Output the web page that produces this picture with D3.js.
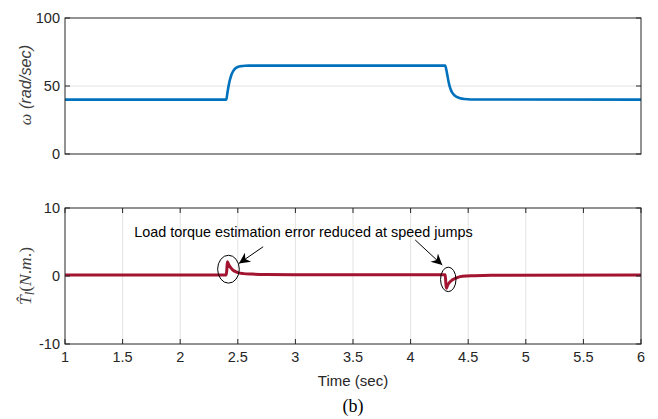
<!DOCTYPE html>
<html><head><meta charset="utf-8">
<script src="https://cdn.jsdelivr.net/npm/d3@7"></script>
<style>body{margin:0;background:#fff}svg{display:block}</style>
</head><body><svg id="c" width="658" height="419"></svg>
<script>
const speedT = [1, 2.40, 2.41, 2.42, 2.43, 2.44, 2.45, 2.46, 2.48, 2.50, 2.53, 2.56, 2.60, 4.30, 4.31, 4.32, 4.33, 4.34, 4.35, 4.36, 4.38, 4.40, 4.43, 4.47, 4.52, 6];
const speedV = [40, 40, 45, 50, 54, 57, 59.3, 61, 63, 64, 64.6, 64.9, 65, 65, 62, 57.5, 53, 49.5, 47, 45.3, 43.2, 42, 41, 40.4, 40.1, 40];
const torqueT = [1, 2.40, 2.405, 2.41, 2.42, 2.44, 2.46, 2.48, 2.50, 2.55, 2.62, 2.75, 3.0, 4.30, 4.305, 4.31, 4.32, 4.34, 4.36, 4.38, 4.41, 4.45, 4.55, 4.7, 6];
const torqueV = [0.15, 0.15, 1.0, 2.1, 1.7, 1.2, 0.85, 0.65, 0.5, 0.35, 0.28, 0.22, 0.2, 0.2, -0.8, -1.8, -1.4, -0.9, -0.6, -0.4, -0.2, -0.05, 0.05, 0.12, 0.15];
const xTicks = [1, 1.5, 2, 2.5, 3, 3.5, 4, 4.5, 5, 5.5, 6];
const speedTicks = [0, 50, 100];
const torqueTicks = [-10, 0, 10];
const annText = "Load torque estimation error reduced at speed jumps";
const annTextPos = [3.07, 5.7];
const ellipses = [{t: 2.419, v: 1.0, rt: 0.094, rv: 2.05}, {t: 4.327, v: -0.5, rt: 0.067, rv: 1.8}];
const arrows = [{from: [2.72, 4.3], to: [2.51, 1.85]}, {from: [4.04, 5.3], to: [4.275, 1.6]}];

const svg = d3.select("#c");
const L = 65, R = 641;
const x = d3.scaleLinear().domain([1, 6]).range([L, R]);
const y1 = d3.scaleLinear().domain([0, 100]).range([154, 18]);
const y2 = d3.scaleLinear().domain([-10, 10]).range([344, 208]);
const axC = "#262626", gridC = "#e3e3e3";
const font = "'Liberation Sans', Arial, Helvetica, sans-serif";
const serif = "'Liberation Serif', 'Times New Roman', serif";

svg.append("defs").append("marker").attr("id", "ah").attr("viewBox", "0 0 10 10")
  .attr("refX", 10).attr("refY", 5).attr("markerWidth", 15).attr("markerHeight", 11)
  .attr("markerUnits", "userSpaceOnUse").attr("orient", "auto")
  .append("path").attr("d", "M0,0 L10,5 L0,10 L3,5 Z").attr("fill", "#000");

function panel(y, yTicks, xGrid, yGrid) {
  const g = svg.append("g");
  const [b, t] = y.range();
  if (yGrid) g.selectAll("line.hg").data(yTicks.filter(v => v !== y.domain()[0] && v !== y.domain()[1])).join("line")
    .attr("class", "hg").attr("x1", L).attr("x2", R).attr("y1", d => y(d)).attr("y2", d => y(d)).attr("stroke", gridC).attr("stroke-width", 1);
  if (xGrid) g.selectAll("line.vg").data(xTicks.slice(1, -1)).join("line")
    .attr("class", "vg").attr("x1", d => x(d)).attr("x2", d => x(d)).attr("y1", t).attr("y2", b).attr("stroke", gridC).attr("stroke-width", 1);
}
function frame(y, yTicks, showX, xTickMarks) {
  const g = svg.append("g");
  const [b, t] = y.range();
  g.append("rect").attr("x", L).attr("y", t).attr("width", R - L).attr("height", b - t)
    .attr("fill", "none").attr("stroke", axC).attr("stroke-width", 1);
  yTicks.forEach(v => {
    g.append("line").attr("x1", L).attr("x2", L + 5).attr("y1", y(v)).attr("y2", y(v)).attr("stroke", axC);
    g.append("line").attr("x1", R).attr("x2", R - 5).attr("y1", y(v)).attr("y2", y(v)).attr("stroke", axC);
    g.append("text").attr("x", L - 5).attr("y", y(v)).attr("dy", "0.36em").attr("text-anchor", "end")
      .attr("font-family", font).attr("font-size", 14.5).attr("fill", axC).text(v);
  });
  if (xTickMarks) xTicks.forEach(v => {
    g.append("line").attr("x1", x(v)).attr("x2", x(v)).attr("y1", b).attr("y2", b - 5).attr("stroke", axC);
    g.append("line").attr("x1", x(v)).attr("x2", x(v)).attr("y1", t).attr("y2", t + 5).attr("stroke", axC);
  });
  if (showX) xTicks.forEach(v => {
    g.append("text").attr("x", x(v)).attr("y", b + 18).attr("text-anchor", "middle")
      .attr("font-family", font).attr("font-size", 14.5).attr("fill", axC).text(v);
  });
}

// top panel
panel(y1, speedTicks, false, true);
const line1 = d3.line().x((d, i) => x(speedT[i])).y(d => y1(d)).curve(d3.curveMonotoneX);
svg.append("path").attr("d", line1(speedV)).attr("fill", "none").attr("stroke", "#0072BD").attr("stroke-width", 2.6);
frame(y1, speedTicks, false, false);

// bottom panel
panel(y2, torqueTicks, true, false);
const line2 = d3.line().x((d, i) => x(torqueT[i])).y(d => y2(d)).curve(d3.curveMonotoneX);
svg.append("path").attr("d", line2(torqueV)).attr("fill", "none").attr("stroke", "#A2142F").attr("stroke-width", 3);
frame(y2, torqueTicks, true, true);

// annotations
ellipses.forEach(e => {
  svg.append("ellipse").attr("cx", x(e.t)).attr("cy", y2(e.v))
    .attr("rx", x(e.t + e.rt) - x(e.t)).attr("ry", y2(e.v - e.rv) - y2(e.v))
    .attr("fill", "none").attr("stroke", "#000").attr("stroke-width", 1);
});
arrows.forEach(a => {
  svg.append("line").attr("x1", x(a.from[0])).attr("y1", y2(a.from[1])).attr("x2", x(a.to[0])).attr("y2", y2(a.to[1]))
    .attr("stroke", "#000").attr("stroke-width", 1).attr("marker-end", "url(#ah)");
});
svg.append("text").attr("x", x(annTextPos[0])).attr("y", y2(annTextPos[1])).attr("text-anchor", "middle")
  .attr("font-family", font).attr("font-size", 14.4).attr("fill", "#000").text(annText);

// axis labels
svg.append("text").attr("transform", `translate(31,${y1(50) - 1}) rotate(-90)`).attr("text-anchor", "middle")
  .attr("font-family", font).attr("font-size", 16.3).attr("fill", "#404040")
  .call(t => { t.append("tspan").attr("font-family", serif).attr("font-style", "italic").text("ω"); t.append("tspan").attr("font-style", "italic").text(" (rad/sec)"); });

const yl = svg.append("text").attr("transform", `translate(31,${y2(0)}) rotate(-90)`).attr("text-anchor", "middle")
  .attr("font-family", serif).attr("font-size", 17.5).attr("fill", "#404040");
yl.append("tspan").attr("font-style", "italic").text("T\u0302");
yl.append("tspan").attr("font-style", "italic").attr("font-size", 12.5).attr("dy", 3).text("l");
yl.append("tspan").attr("dy", -3).text("(");
yl.append("tspan").attr("font-style", "italic").text("N");
yl.append("tspan").text(".");
yl.append("tspan").attr("font-style", "italic").text("m");
yl.append("tspan").text(".)");

svg.append("text").attr("x", (L + R) / 2).attr("y", 386).attr("text-anchor", "middle")
  .attr("font-family", font).attr("font-size", 15).attr("fill", axC).text("Time (sec)");
svg.append("text").attr("x", (L + R) / 2).attr("y", 412).attr("text-anchor", "middle")
  .attr("font-family", serif).attr("font-size", 18).attr("fill", "#000").text("(b)");
</script></body></html>
